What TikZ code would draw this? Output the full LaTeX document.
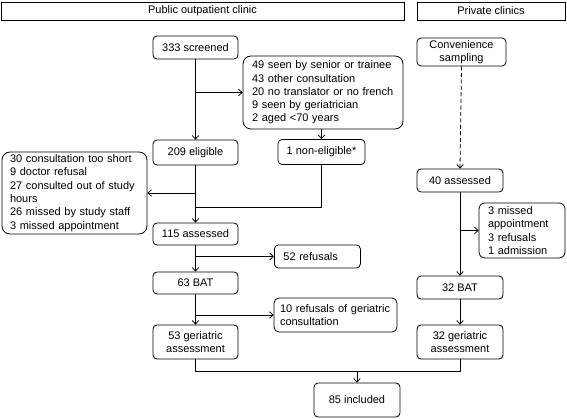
\documentclass[tikz,border=0pt]{standalone}
\usepackage{fontspec}
\setmainfont{Liberation Sans}
\usetikzlibrary{arrows.meta}
\hyphenpenalty=10000
\begin{document}
\begin{tikzpicture}[x=1pt,y=-1pt,
  font=\fontsize{11}{13.3}\selectfont,
  >={Straight Barb[length=3.5pt,width=6.5pt]},
  every path/.style={line width=0.8pt},
  hdr/.style={draw, line width=0.8pt, inner sep=0pt},
  bx/.style={draw, line width=0.8pt, rounded corners=4pt, inner sep=0pt, align=center},
  lbx/.style={draw, line width=0.8pt, rounded corners=8pt, inner ysep=0pt, inner xsep=9pt, align=left},
  conn/.style={->}
]
\useasboundingbox (0,0) rectangle (567,419);

% headers
\node[hdr, minimum width=403pt, minimum height=18pt] (hA) at (202.5,11) {Public outpatient clinic};
\node[hdr, minimum width=148pt, minimum height=18pt] (hB) at (491,11) {Private clinics};

% public column
\node[bx, minimum width=85pt, minimum height=23pt] (s333) at (195.5,47.5) {333 screened};
\node[lbx, text width=142pt, minimum height=73pt] (excl) at (323,92.5) {49 seen by senior or trainee\\43 other consultation\\20 no translator or no french\\9 seen by geriatrician\\2 aged <70 years};
\node[bx, minimum width=85pt, minimum height=25pt] (e209) at (195.5,152.5) {209 eligible};
\node[bx, minimum width=87pt, minimum height=25pt] (non) at (321.5,152) {1 non-eligible*};
\node[lbx, text width=129pt, inner xsep=8pt, minimum height=82pt] (left) at (74.5,193) {30 consultation too short\\9 doctor refusal\\27 consulted out of study\\hours\\26 missed by study staff\\3 missed appointment};
\node[bx, minimum width=85pt, minimum height=22pt] (a115) at (195.5,234) {115 assessed};
\node[bx, anchor=west, minimum width=86pt, minimum height=23pt, align=left, inner xsep=9pt, text width=68pt] (r52) at (274,256.5) {52 refusals};
\node[bx, minimum width=85pt, minimum height=22pt] (b63) at (195.5,283) {63 BAT};
\node[lbx, rounded corners=5pt, inner xsep=6pt, text width=111pt, minimum height=34pt] (r10) at (335.5,315) {10 refusals of geriatric\\consultation};
\node[bx, minimum width=85pt, minimum height=34pt] (g53) at (195.5,342) {53 geriatric\\assessment};
\node[bx, minimum width=86pt, minimum height=34pt] (inc) at (357,400) {85 included};

% private column
\node[bx, minimum width=89pt, minimum height=28pt] (conv) at (461.5,52) {Convenience\\sampling};
\node[bx, minimum width=86pt, minimum height=23pt] (a40) at (460,180.5) {40 assessed};
\node[lbx, rounded corners=6pt, text width=68pt, minimum height=55pt] (pex) at (522,230.5) {3 missed\\appointment\\3 refusals\\1 admission};
\node[bx, minimum width=86pt, minimum height=23pt] (b32) at (460,287.5) {32 BAT};
\node[bx, minimum width=86pt, minimum height=34pt] (g32) at (460,342) {32 geriatric\\assessment};

% coordinates
\coordinate (j1) at (s333.south |- excl.west);
\coordinate (j2) at (e209.south |- left.east);
\coordinate (j3) at (195.5,207);
\coordinate (j3r) at (non.south |- j3);
\coordinate (j4) at (a115.south |- r52.west);
\coordinate (j5) at (b63.south |- r10.west);
\coordinate (j6) at (460,230.5);
\coordinate (m1) at (195.5,371);
\coordinate (m2) at (460,371);
\coordinate (m3) at (inc.north |- m1);

% connectors public
\draw[conn] (s333.south) -- (e209.north);
\draw[conn] (j1) -- (excl.west);
\draw[conn] (excl.south -| non.north) -- (non.north);
\draw[conn] (e209.south) -- (a115.north);
\draw[conn] (j2) -- (left.east);
\draw (non.south) -- (j3r) -- (j3);
\draw[conn] (a115.south) -- (b63.north);
\draw[conn] (j4) -- (r52.west);
\draw[conn] (b63.south) -- (g53.north);
\draw[conn] (j5) -- (r10.west);

% connectors private
\draw[conn, dashed, dash pattern=on 4pt off 2.5pt] (conv.south) -- (a40.north);
\draw[conn] (a40.south) -- (b32.north);
\draw[conn] (j6) -- (pex.west);
\draw[conn] (b32.south) -- (g32.north);

% merge
\draw (g53.south) -- (m1) -- (m2) -- (g32.south);
\draw[conn] (m3) -- (inc.north);
\end{tikzpicture}
\end{document}
